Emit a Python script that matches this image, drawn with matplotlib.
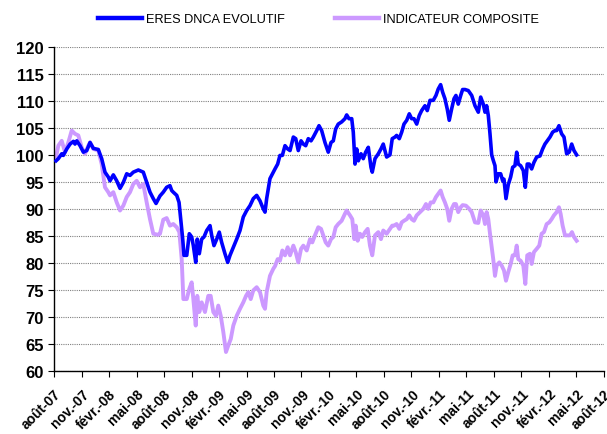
import matplotlib
matplotlib.use("Agg")
import matplotlib.pyplot as plt

plt.rcParams['font.family'] = ['Liberation Sans', 'DejaVu Sans']

# months elapsed since August 2007
eres_months = [0.22, 0.47, 0.84, 1.01, 1.39, 1.75, 2.11, 2.29, 2.48, 2.84, 3.20, 3.57, 3.93, 4.29, 4.83, 5.20,
               5.56, 5.92, 6.11, 6.47, 6.84, 7.20, 7.56, 7.93, 8.29, 8.65, 9.20, 9.74, 10.11, 10.47, 10.83, 11.13,
               11.56, 11.92, 12.29, 12.65, 12.84, 13.01, 13.39, 13.64, 13.82, 14.04, 14.18, 14.48, 14.76, 15.02,
               15.20, 15.46, 15.63, 15.85, 16.11, 16.36, 16.66, 17.02, 17.20, 17.45, 17.75, 18.03, 18.29, 18.65,
               18.95, 19.20, 19.56, 19.93, 20.29, 20.65, 21.02, 21.38, 21.74, 22.11, 22.47, 22.83, 23.02, 23.20,
               23.56, 23.92, 24.11, 24.40, 24.65, 24.91, 25.20, 25.49, 25.75, 26.11, 26.37, 26.65, 26.95, 27.20,
               27.46, 27.74, 28.04, 28.29, 28.66, 28.91, 29.20, 29.56, 29.92, 30.22, 30.47, 30.73, 31.01, 31.38,
               31.74, 31.93, 32.18, 32.48, 32.65, 32.84, 33.02, 33.20, 33.49, 33.74, 34.00, 34.29, 34.58, 34.72,
               35.02, 35.38, 35.67, 35.92, 36.29, 36.65, 36.90, 37.20, 37.38, 37.67, 37.93, 38.18, 38.48, 38.76,
               39.02, 39.27, 39.57, 39.85, 40.11, 40.47, 40.72, 41.02, 41.38, 41.67, 41.92, 42.18, 42.40, 42.65,
               42.90, 43.12, 43.38, 43.64, 43.85, 44.10, 44.37, 44.58, 44.84, 45.20, 45.57, 45.93, 46.29, 46.55,
               46.83, 47.02, 47.20, 47.38, 47.56, 47.75, 47.92, 48.11, 48.22, 48.47, 48.73, 48.95, 49.09, 49.31,
               49.56, 49.82, 50.04, 50.29, 50.48, 50.65, 50.91, 51.20, 51.42, 51.63, 51.85, 52.11, 52.36, 52.66,
               53.02, 53.31, 53.56, 53.81, 54.11, 54.40, 54.65, 54.84, 55.09, 55.38, 55.64, 55.93, 56.21, 56.48,
               56.73, 57.02]
eres_values = [98.9, 99.3, 100.2, 99.9, 101.1, 102.0, 102.5, 102.0, 102.6, 101.7, 100.5, 100.8, 102.3, 101.2, 101.0, 99.3,
               96.8, 95.9, 95.2, 96.3, 95.2, 93.8, 94.9, 96.5, 96.2, 96.8, 97.2, 96.8, 94.9, 93.1, 91.9, 91.0,
               92.4, 93.1, 94.0, 94.3, 93.4, 93.1, 92.5, 91.2, 88.1, 84.4, 81.4, 81.4, 85.4, 84.8,
               83.2, 80.1, 84.4, 81.7, 84.4, 84.8, 86.0, 86.9, 85.1, 83.2, 84.4, 85.7, 83.8, 81.7,
               80.1, 81.4, 82.9, 84.4, 86.0, 88.5, 89.7, 90.6, 91.9, 92.5, 91.5, 90.0, 89.4, 91.9,
               95.6, 96.8, 97.4, 98.3, 99.9, 99.9, 101.7, 101.1, 100.8, 103.3, 103.0, 100.8, 102.6, 102.0,
               101.7, 103.0, 102.6, 103.3, 104.5, 105.4, 104.5, 102.3, 100.5, 102.3, 102.6, 104.8, 105.7, 106.1,
               106.7, 107.4, 106.7, 106.7, 104.2, 98.3, 101.1, 98.9, 100.2, 99.3, 100.5, 101.4, 97.7, 96.8,
               99.3, 100.2, 101.1, 102.0, 99.6, 100.0, 103.0, 103.3, 103.6, 103.0, 104.2, 105.7, 106.4, 107.6,
               106.7, 106.7, 105.7, 107.3, 108.2, 109.1, 108.2, 110.1, 110.1, 111.0, 112.2, 113.0, 111.6, 110.4,
               108.5, 106.4, 108.5, 110.4, 111.0, 109.4, 111.0, 112.1, 112.1, 111.9, 111.0, 109.1, 107.9, 110.7,
               109.4, 107.9, 109.1, 107.3, 104.0, 100.0, 99.0, 98.0, 95.0, 96.5, 96.5, 95.2, 95.5, 91.9,
               94.5, 95.9, 97.7, 98.0, 100.5, 98.3, 98.0, 97.1, 94.0, 98.3, 98.3, 97.4, 98.6, 99.6,
               99.8, 101.1, 102.0, 102.6, 103.3, 104.2, 104.5, 104.5, 105.4, 103.9, 103.3, 100.2, 100.5, 102.0,
               100.8, 100.0]

comp_months = [0.22, 0.47, 0.84, 1.20, 1.56, 1.93, 2.29, 2.65, 3.02, 3.38, 3.74, 3.93, 4.29, 4.83, 5.20, 5.56,
               5.92, 6.11, 6.47, 6.84, 7.20, 7.56, 7.93, 8.29, 8.65, 9.02, 9.38, 9.74, 10.11, 10.47, 10.83, 11.38,
               11.56, 11.92, 12.29, 12.65, 13.01, 13.39, 13.67, 13.93, 14.11, 14.48, 14.76, 15.02, 15.20, 15.46,
               15.63, 15.85, 16.11, 16.47, 16.83, 17.09, 17.38, 17.67, 17.92, 18.19, 18.47, 18.76, 19.01, 19.28,
               19.56, 19.93, 20.29, 20.65, 20.95, 21.20, 21.46, 21.74, 22.11, 22.47, 22.83, 23.02, 23.20, 23.56,
               23.92, 24.11, 24.40, 24.65, 24.91, 25.20, 25.49, 25.75, 26.11, 26.37, 26.65, 26.95, 27.20, 27.57,
               27.93, 28.18, 28.47, 28.83, 29.13, 29.38, 29.64, 29.92, 30.22, 30.47, 30.73, 31.01, 31.38, 31.74,
               31.93, 32.29, 32.54, 32.76, 32.91, 33.13, 33.38, 33.63, 33.93, 34.22, 34.47, 34.72, 35.02, 35.38,
               35.67, 35.92, 36.29, 36.65, 36.90, 37.09, 37.38, 37.67, 37.93, 38.18, 38.48, 38.76, 39.02, 39.27,
               39.57, 39.93, 40.29, 40.58, 40.83, 41.09, 41.38, 41.67, 41.92, 42.18, 42.40, 42.65, 42.90, 43.12,
               43.38, 43.64, 43.85, 44.10, 44.37, 44.58, 44.94, 45.30, 45.57, 45.93, 46.29, 46.55, 46.83, 47.02,
               47.20, 47.38, 47.56, 47.75, 47.92, 48.11, 48.29, 48.58, 48.84, 49.09, 49.31, 49.56, 49.82, 50.04,
               50.29, 50.48, 50.65, 50.91, 51.20, 51.42, 51.63, 51.93, 52.11, 52.36, 52.66, 52.94, 53.20, 53.45,
               53.75, 54.03, 54.29, 54.54, 54.84, 55.09, 55.27, 55.49, 55.75, 56.00, 56.29, 56.51, 56.73, 57.02]
comp_values = [99.6, 101.7, 102.6, 100.5, 102.3, 104.5, 103.9, 103.6, 101.4, 100.2, 101.7, 102.3, 101.1, 100.8, 98.3, 94.0,
               93.1, 92.5, 93.1, 91.2, 89.7, 90.6, 92.2, 93.1, 94.6, 95.2, 94.0, 94.6, 91.2, 88.1, 85.4, 85.2,
               85.4, 88.0, 88.3, 86.9, 87.2, 86.6, 85.7, 80.7, 73.3, 73.3, 75.2, 76.4, 73.3, 68.4,
               73.9, 70.9, 72.7, 70.9, 73.9, 73.9, 70.9, 70.2, 72.1, 70.2, 67.2, 63.5, 64.7, 65.9,
               68.4, 70.2, 71.5, 72.7, 73.9, 74.6, 73.3, 74.9, 75.5, 74.6, 72.1, 71.5, 74.6, 77.6,
               78.9, 79.4, 80.7, 80.4, 82.3, 81.4, 82.9, 81.4, 83.2, 82.0, 80.1, 82.6, 83.2, 82.3,
               84.4, 83.8, 85.1, 86.6, 86.3, 85.1, 83.8, 83.2, 84.4, 84.8, 86.6, 87.2, 87.8, 89.1,
               89.7, 88.8, 88.1, 84.4, 86.9, 84.1, 85.4, 84.8, 85.7, 86.3, 83.2, 81.4, 85.1, 85.7,
               84.4, 86.0, 85.4, 86.3, 86.9, 86.9, 87.2, 86.3, 87.5, 87.8, 88.1, 88.8, 88.1, 87.8,
               88.8, 89.4, 90.0, 90.9, 90.0, 91.2, 91.2, 92.2, 92.8, 93.4, 92.2, 91.2, 90.0, 87.8,
               90.0, 90.9, 90.9, 89.4, 90.3, 90.7, 90.6, 90.0, 89.4, 87.5, 87.4, 89.7, 88.8, 87.2,
               89.4, 88.1, 85.5, 83.0, 80.7, 77.6, 79.5, 80.1, 79.5, 78.6, 76.7, 78.3, 79.8, 81.4,
               81.4, 83.2, 80.7, 80.4, 79.5, 76.1, 81.4, 81.7, 79.8, 82.0, 82.6, 83.2, 85.4, 85.7,
               87.2, 87.5, 88.1, 88.8, 89.4, 90.3, 89.1, 86.9, 85.1, 85.1, 85.1, 85.7, 84.8, 84.1]

tick_labels = ["août-07", "nov.-07", "févr.-08", "mai-08", "août-08", "nov.-08", "févr.-09",
               "mai-09", "août-09", "nov.-09", "févr.-10", "mai-10", "août-10", "nov.-10",
               "févr.-11", "mai-11", "août-11", "nov.-11", "févr.-12", "mai-12", "août-12"]
series_names = ["ERES DNCA EVOLUTIF", "INDICATEUR COMPOSITE"]
colors = ["#0000FF", "#CC99FF"]

fig = plt.figure(figsize=(6.07, 4.35), dpi=100)
ax = fig.add_axes([0.089, 0.145, 0.906, 0.745])

ax.plot(eres_months, eres_values, color=colors[0], lw=2.6, label=series_names[0], zorder=3,
        solid_joinstyle='round')
ax.plot(comp_months, comp_values, color=colors[1], lw=2.8, label=series_names[1], zorder=2,
        solid_joinstyle='round')

ax.set_ylim(60, 120)
ax.set_yticks(range(60, 121, 5))
ax.set_xlim(0, 60)
ax.set_xticks(range(0, 61, 3))
ax.set_xticklabels(tick_labels, rotation=45, ha='right', rotation_mode='anchor',
                   fontsize=10, fontweight='bold')
for lab in ax.get_yticklabels():
    lab.set_fontweight('bold')
    lab.set_fontsize(12)

ax.grid(axis='y', color='#808080', linestyle=(0, (1, 1)), lw=0.8)
ax.set_axisbelow(True)
for s in ['top', 'right']:
    ax.spines[s].set_visible(False)
for s in ['left', 'bottom']:
    ax.spines[s].set_linewidth(1.0)
ax.tick_params(axis='y', length=4.5, width=0.8, pad=3)
ax.tick_params(axis='x', length=4, width=0.8, pad=7, direction='out')

leg = fig.legend(loc='center', bbox_to_anchor=(0.525, 0.954), ncol=2, frameon=False,
                 fontsize=9.2, handlelength=3.45, columnspacing=3.9, handletextpad=0.31)
for line in leg.get_lines():
    line.set_linewidth(3.2)

fig.savefig("out.png", dpi=100)
